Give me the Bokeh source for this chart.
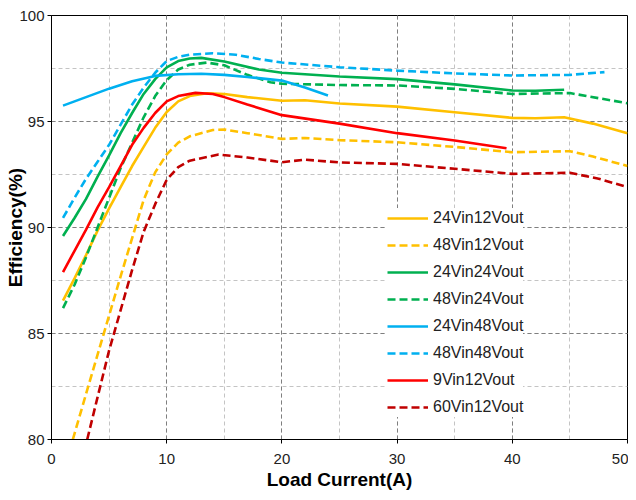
import math
from bokeh.plotting import figure
from bokeh.models import Range1d, SingleIntervalTicker, Legend, LegendItem
from bokeh.embed import file_html
from bokeh.resources import INLINE

# ---- data ----
x_24v12 = [1, 2, 3, 4, 5, 6, 7, 8, 9, 10, 11, 12, 13.5, 15, 17, 20, 22, 25, 30, 35, 40, 42, 44.5, 47, 50]
y_24v12 = [86.55, 87.6, 88.7, 89.85, 90.9, 91.9, 92.9, 93.8, 94.7, 95.45, 95.95, 96.2, 96.33, 96.3, 96.15, 95.98, 96.0, 95.85, 95.7, 95.44, 95.17, 95.15, 95.2, 94.9, 94.45]

x_48v12 = [1.85, 3, 4, 5, 6, 7, 8, 9, 10, 11, 12, 14, 15, 17, 20, 22, 25, 30, 35, 40, 45, 47, 50]
y_48v12 = [80.0, 82.15, 84.0, 85.85, 87.7, 89.5, 91.3, 92.6, 93.45, 94.0, 94.3, 94.6, 94.62, 94.45, 94.18, 94.22, 94.12, 94.02, 93.8, 93.55, 93.6, 93.35, 92.9]

x_24v24 = [1, 2, 3, 4, 5, 6, 7, 8, 9, 10, 11, 12, 13, 15, 18, 20, 25, 30, 35, 40, 42, 44.5]
y_24v24 = [89.6, 90.45, 91.35, 92.4, 93.4, 94.45, 95.4, 96.3, 97.0, 97.55, 97.85, 97.97, 98.0, 97.83, 97.45, 97.3, 97.12, 97.0, 96.75, 96.46, 96.45, 96.5]

x_48v24 = [1, 2, 3, 4, 5, 6, 7, 8, 9, 10, 11, 12, 13.5, 15, 17, 19, 20, 25, 30, 35, 40, 45, 50]
y_48v24 = [86.2, 87.3, 88.6, 90.0, 91.4, 92.8, 94.0, 95.2, 96.2, 96.95, 97.45, 97.68, 97.78, 97.65, 97.2, 96.85, 96.78, 96.72, 96.7, 96.54, 96.3, 96.34, 95.86]

x_24v48 = [1, 3, 5, 7, 9, 11, 13, 15, 17, 20, 22, 24]
y_24v48 = [95.75, 96.15, 96.55, 96.9, 97.15, 97.23, 97.25, 97.2, 97.1, 96.93, 96.6, 96.23]

x_48v48 = [1, 2, 3, 4, 5, 6, 7, 8, 9, 10, 11, 12, 14, 16, 18, 20, 25, 30, 35, 40, 45, 48]
y_48v48 = [90.45, 91.4, 92.3, 93.1, 93.9, 94.85, 95.8, 96.6, 97.3, 97.85, 98.05, 98.15, 98.22, 98.15, 97.95, 97.78, 97.56, 97.4, 97.27, 97.17, 97.2, 97.33]

x_9v12 = [1, 2, 3, 4, 5, 6, 7, 8, 9, 10, 11, 12.5, 14, 15, 17, 20, 25, 30, 35, 39.5]
y_9v12 = [87.9, 88.9, 89.9, 90.95, 91.9, 92.9, 93.9, 94.7, 95.4, 95.95, 96.2, 96.35, 96.3, 96.15, 95.8, 95.3, 94.9, 94.45, 94.1, 93.74]

x_60v12 = [3.1, 4, 5, 6, 7, 8, 9, 10, 11, 12, 14.5, 17, 20, 22, 25, 30, 35, 40, 45, 47.5, 50]
y_60v12 = [80.0, 82.0, 84.2, 86.1, 88.0, 89.8, 91.1, 92.25, 92.85, 93.15, 93.44, 93.3, 93.08, 93.2, 93.07, 93.0, 92.77, 92.53, 92.58, 92.3, 91.9]

series_names = ["24Vin12Vout", "48Vin12Vout", "24Vin24Vout", "48Vin24Vout",
                "24Vin48Vout", "48Vin48Vout", "9Vin12Vout", "60Vin12Vout"]

x_ticks_interval = 10
y_ticks_interval = 5

# ---- figure ----
FONT = "Liberation Sans"
p = figure(width=628, height=496, output_backend="svg", toolbar_location=None,
           x_range=Range1d(0, 50), y_range=Range1d(80, 100),
           min_border_left=51, min_border_right=1, min_border_top=15, min_border_bottom=57)
p.background_fill_color = "white"
p.border_fill_color = "white"
p.outline_line_color = "black"
p.outline_line_width = 1

xt = SingleIntervalTicker(interval=x_ticks_interval, num_minor_ticks=2)
yt = SingleIntervalTicker(interval=y_ticks_interval, num_minor_ticks=2)
p.xaxis.ticker = xt
p.yaxis.ticker = yt
p.xgrid.ticker = xt
p.ygrid.ticker = yt

for g in (p.xgrid, p.ygrid):
    g.grid_line_color = "#7f7f7f"
    g.grid_line_dash = "4 3"
    g.grid_line_width = 1
    g.minor_grid_line_color = "#c4c4c4"
    g.minor_grid_line_dash = "4 3"
    g.minor_grid_line_width = 1

for ax in (p.xaxis, p.yaxis):
    ax.axis_line_color = "black"
    ax.axis_line_width = 1
    ax.major_tick_line_color = "black"
    ax.major_tick_out = 4
    ax.major_tick_in = 0
    ax.minor_tick_line_color = None
    ax.major_label_text_font = FONT
    ax.major_label_text_font_size = "15px"
    ax.major_label_text_color = "#222222"
    ax.axis_label_text_font = FONT
    ax.axis_label_text_font_style = "bold"
    ax.axis_label_text_font_size = "19px"
    ax.axis_label_text_color = "black"

p.yaxis.major_label_standoff = 3
p.xaxis.major_label_standoff = 10
p.xaxis.axis_label = "Load Current(A)"
p.xaxis.axis_label_standoff = 2
p.yaxis.axis_label = "Efficiency(%)"
p.yaxis.axis_label_standoff = -10

LW = 2.6
DASH = "8 4"
r1 = p.line(x_24v12, y_24v12, line_color="#FFC000", line_width=LW)
r2 = p.line(x_48v12, y_48v12, line_color="#FFC000", line_width=LW, line_dash=DASH)
r3 = p.line(x_24v24, y_24v24, line_color="#00B050", line_width=LW)
r4 = p.line(x_48v24, y_48v24, line_color="#00B050", line_width=LW, line_dash=DASH)
r5 = p.line(x_24v48, y_24v48, line_color="#00B0F0", line_width=LW)
r6 = p.line(x_48v48, y_48v48, line_color="#00B0F0", line_width=LW, line_dash=DASH)
r7 = p.line(x_9v12, y_9v12, line_color="#FF0000", line_width=LW)
r8 = p.line(x_60v12, y_60v12, line_color="#C00000", line_width=LW, line_dash=DASH)

renderers = [r1, r2, r3, r4, r5, r6, r7, r8]
items = [LegendItem(label=n, renderers=[r]) for n, r in zip(series_names, renderers)]
legend = Legend(items=items, location=(336, 22), orientation="vertical",
                glyph_width=41, glyph_height=20, label_height=20, label_standoff=5,
                spacing=7, padding=4, margin=0,
                border_line_color=None, background_fill_color="white", background_fill_alpha=1,
                label_text_font=FONT, label_text_font_size="16px", label_text_color="#222222")
p.add_layout(legend)

open("out.html", "w").write(file_html(p, INLINE))
